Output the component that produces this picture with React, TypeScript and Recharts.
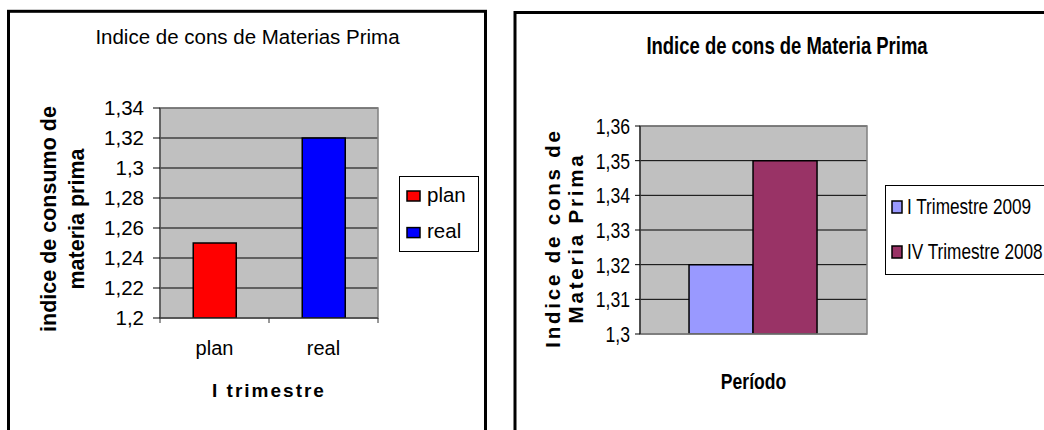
import React from 'react';
import {
  BarChart,
  Bar,
  Cell,
  XAxis,
  YAxis,
  CartesianGrid,
  Legend,
  Label,
  ReferenceArea,
} from 'recharts';

// ---------- data ----------
const leftCategories = ['plan', 'real'];
const leftValues = [1.25, 1.32];
const leftColors = ['#FF0000', '#0000FF'];
const leftTicks = [1.2, 1.22, 1.24, 1.26, 1.28, 1.3, 1.32, 1.34];
const leftTitle = 'Indice de cons de Materias Prima';
const leftYLabel = ['indice de consumo de', 'materia prima'];
const leftXLabel = 'I trimestre';

const rightCategories = [''];
const rightSeries = ['I Trimestre 2009', 'IV Trimestre 2008'];
const rightValues = [1.32, 1.35];
const rightColors = ['#9999FF', '#993366'];
const rightTicks = [1.3, 1.31, 1.32, 1.33, 1.34, 1.35, 1.36];
const rightTitle = 'Indice de cons de Materia Prima';
const rightYLabel = ['Indice de cons de', 'Materia Prima'];
const rightXLabel = 'Período';

const leftData = leftCategories.map((c, i) => ({ name: c, value: leftValues[i] }));
const rightData = rightCategories.map((c) => ({
  period: c,
  s0: rightValues[0],
  s1: rightValues[1],
}));

const fmt = (v: number) => String(Number(v.toFixed(2))).replace('.', ',');

const SANS = '"Liberation Sans", Arial, sans-serif';

// Condensed text (Arial Narrow look) built from Liberation Sans scaled horizontally
const NarrowText = ({
  x,
  y,
  anchor = 'start',
  size,
  bold = false,
  dy,
  scale = 0.82,
  children,
}: {
  x: number;
  y: number;
  anchor?: 'start' | 'middle' | 'end';
  size: number;
  bold?: boolean;
  dy?: string;
  scale?: number;
  children: React.ReactNode;
}) => (
  <text
    transform={`translate(${x} ${y}) scale(${scale} 1)`}
    x={0}
    y={0}
    dy={dy}
    textAnchor={anchor}
    fontSize={size}
    fontWeight={bold ? 'bold' : 'normal'}
    fontFamily={SANS}
    fill="#000"
  >
    {children}
  </text>
);

// ---------- left chart layout ----------
const L_W = 479;
const L_H = 419;
const L_YAXIS_W = 152;
const L_MARGIN = { top: 97, right: 109, bottom: 0, left: 0 };
const L_PLOT_W = L_W - L_MARGIN.left - L_MARGIN.right - L_YAXIS_W;

const LeftTick = (props: any) => {
  const { x, y, payload, index } = props;
  const band = L_PLOT_W / leftCategories.length;
  const last = index === leftCategories.length - 1;
  return (
    <g>
      <text x={x} y={y + 37} textAnchor="middle" fontSize={20} fontFamily={SANS} fill="#000">
        {payload.value}
      </text>
      <line x1={x - band / 2} x2={x - band / 2} y1={y} y2={y + 5} stroke="#333" />
      {last && <line x1={x + band / 2} x2={x + band / 2} y1={y} y2={y + 5} stroke="#333" />}
    </g>
  );
};

const LeftLegend = () => (
  <svg width={80} height={76} style={{ display: 'block' }}>
    <rect x={0.5} y={0.5} width={79} height={75} fill="#fff" stroke="#000" />
    {leftCategories.map((c, i) => (
      <g key={c}>
        <rect x={8} y={15 + i * 36.6} width={13} height={10} fill={leftColors[i]} stroke="#000" strokeWidth={1.5} />
        <text x={28} y={25.5 + i * 36.6} fontSize={20.5} fontFamily={SANS} fill="#000">
          {c}
        </text>
      </g>
    ))}
  </svg>
);

const RightLegend = () => (
  <svg width={180} height={90} style={{ display: 'block' }}>
    <rect x={0.5} y={0.5} width={179} height={89} fill="#fff" stroke="#000" />
    {rightSeries.map((s, i) => (
      <g key={s}>
        <rect x={7} y={16 + i * 45} width={10} height={12} fill={rightColors[i]} stroke="#000" strokeWidth={1.5} />
        <NarrowText x={22} y={28.5 + i * 45} size={21.5} scale={0.8}>
          {s}
        </NarrowText>
      </g>
    ))}
  </svg>
);

const RightYTick = (props: any) => {
  const { x, y, payload } = props;
  return (
    <NarrowText x={x} y={y} dy="0.36em" anchor="end" size={22} scale={0.8}>
      {fmt(payload.value)}
    </NarrowText>
  );
};

const LeftChart = () => (
  <div style={{ position: 'absolute', left: 8, top: 11 }}>
    <BarChart width={L_W} height={L_H} data={leftData} margin={L_MARGIN} barCategoryGap="30.5%">
      <CartesianGrid vertical={false} stroke="#000" fill="#c0c0c0" fillOpacity={1} />
      <ReferenceArea y1={1.2} y2={1.34} fill="none" stroke="#808080" strokeWidth={1.5} />
      <XAxis
        dataKey="name"
        height={L_H - L_MARGIN.top - 210}
        interval={0}
        tickLine={false}
        tickSize={0}
        tickMargin={0}
        axisLine={{ stroke: '#333' }}
        tick={<LeftTick />}
      >
        <Label
          content={(p: any) => {
            const vb = p.viewBox || { x: 152, y: 307, width: 218 };
            return (
              <text
                x={vb.x + vb.width / 2}
                y={vb.y + 79}
                textAnchor="middle"
                fontSize={19}
                fontWeight="bold"
                letterSpacing={2}
                fontFamily={SANS}
                fill="#000"
              >
                {leftXLabel}
              </text>
            );
          }}
        />
      </XAxis>
      <YAxis
        width={L_YAXIS_W}
        domain={[leftTicks[0], leftTicks[leftTicks.length - 1]]}
        ticks={leftTicks}
        interval={0}
        allowDataOverflow
        tickFormatter={fmt}
        tickSize={7}
        tickMargin={9}
        tickLine={{ stroke: '#000' }}
        axisLine={{ stroke: '#333' }}
        tick={{ fill: '#000', fontSize: 20.5, fontFamily: SANS }}
      >
        <Label
          content={() => (
            <g>
              {leftYLabel.map((t, i) => (
                <text
                  key={t}
                  x={48 + i * 28}
                  y={208}
                  transform={`rotate(-90 ${48 + i * 28} 208)`}
                  textAnchor="middle"
                  fontSize={21.5}
                  fontWeight="bold"
                  fontFamily={SANS}
                  fill="#000"
                >
                  {t}
                </text>
              ))}
            </g>
          )}
        />
      </YAxis>
      <Legend
        layout="horizontal"
        verticalAlign="middle"
        align="center"
        content={() => <LeftLegend />}
        wrapperStyle={{ position: 'absolute', left: 391, top: 165, width: 80, height: 76 }}
      />
      <Bar dataKey="value" isAnimationActive={false} stroke="#000" strokeWidth={1.5}>
        {leftData.map((d, i) => (
          <Cell key={d.name} fill={leftColors[i]} />
        ))}
      </Bar>
    </BarChart>
  </div>
);

// ---------- right chart layout ----------
const R_W = 540;
const R_H = 419;
const R_MARGIN = { top: 115, right: 187, bottom: 0, left: 0 };

const RightChart = () => (
  <div style={{ position: 'absolute', left: 514, top: 11 }}>
    <BarChart width={R_W} height={R_H} data={rightData} margin={R_MARGIN} barGap={0} barCategoryGap="21.6%">
      <CartesianGrid vertical={false} stroke="#000" fill="#c0c0c0" fillOpacity={1} />
      <ReferenceArea y1={1.3} y2={1.36} fill="none" stroke="#808080" strokeWidth={1.5} />
      <XAxis
        dataKey="period"
        height={R_H - R_MARGIN.top - 208}
        tick={false}
        tickLine={false}
        axisLine={{ stroke: '#808080', strokeWidth: 1.5 }}
      >
        <Label
          content={(p: any) => {
            const vb = p.viewBox || { x: 126, y: 323, width: 227 };
            return (
              <NarrowText x={vb.x + vb.width / 2} y={vb.y + 55} anchor="middle" size={22.5} bold scale={0.78}>
                {rightXLabel}
              </NarrowText>
            );
          }}
        />
      </XAxis>
      <YAxis
        width={126}
        domain={[rightTicks[0], rightTicks[rightTicks.length - 1]]}
        ticks={rightTicks}
        interval={0}
        allowDataOverflow
        tickFormatter={fmt}
        tickSize={5}
        tickMargin={5}
        tickLine={{ stroke: '#000' }}
        axisLine={{ stroke: '#000' }}
        tick={<RightYTick />}
      >
        <Label
          content={() => (
            <g>
              {rightYLabel.map((t, i) => (
                <text
                  key={t}
                  x={46 + i * 23}
                  y={227}
                  transform={`rotate(-90 ${46 + i * 23} 227)`}
                  textAnchor="middle"
                  fontSize={20.5}
                  fontWeight="bold"
                  letterSpacing={2.8}
                  fontFamily={SANS}
                  fill="#000"
                >
                  {t}
                </text>
              ))}
            </g>
          )}
        />
      </YAxis>
      <Legend
        layout="horizontal"
        verticalAlign="middle"
        align="center"
        content={() => <RightLegend />}
        wrapperStyle={{ position: 'absolute', left: 371, top: 174, width: 180, height: 90 }}
      />
      <Bar dataKey="s0" name={rightSeries[0]} fill={rightColors[0]} stroke="#000" strokeWidth={1.5} isAnimationActive={false} />
      <Bar dataKey="s1" name={rightSeries[1]} fill={rightColors[1]} stroke="#000" strokeWidth={1.5} isAnimationActive={false} />
    </BarChart>
  </div>
);

export default function App() {
  return (
    <div
      style={{
        position: 'fixed',
        left: 0,
        top: 0,
        width: 1044,
        height: 430,
        overflow: 'hidden',
        background: '#fff',
      }}
    >
      <svg width={1044} height={430} style={{ position: 'absolute', left: 0, top: 0 }}>
        <rect x={8.5} y={11.3} width={477} height={500} fill="#fff" stroke="#000" strokeWidth={3} />
        <rect x={515} y={12.5} width={600} height={500} fill="#fff" stroke="#000" strokeWidth={3} />
        <text x={247.5} y={44.3} textAnchor="middle" fontSize={20.5} fontFamily={SANS} fill="#000">
          {leftTitle}
        </text>
        <NarrowText x={787} y={53.5} anchor="middle" size={24} bold scale={0.77}>
          {rightTitle}
        </NarrowText>
      </svg>
      <LeftChart />
      <RightChart />
    </div>
  );
}
